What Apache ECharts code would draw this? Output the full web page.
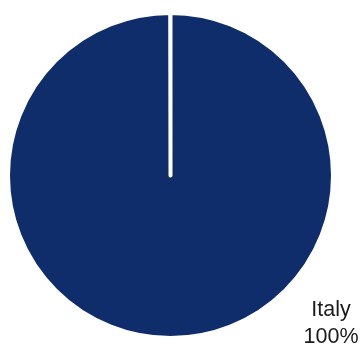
<!DOCTYPE html>
<html>
<head>
<meta charset="utf-8">
<script src="https://cdn.jsdelivr.net/npm/echarts@6/dist/echarts.min.js"></script>
<style>
  html, body { margin: 0; padding: 0; background: #fff; }
  #chart { width: 360px; height: 347px; }
</style>
</head>
<body>
<div id="chart"></div>
<script>
// --- data ---
const categories = ['Italy'];
const shares = [100];
const colors = ['#0F2D6B'];

const chart = echarts.init(document.getElementById('chart'), null, { renderer: 'canvas' });

chart.setOption({
  animation: false,
  series: [
    {
      type: 'pie',
      center: [170.5, 175.5],
      radius: 162.5,
      startAngle: 90,
      // leave a hair-thin gap so the slice keeps its radial edge (white line at 12 o'clock)
      endAngle: 90 - 359.9,
      clockwise: true,
      itemStyle: {
        borderColor: '#fff',
        borderWidth: 4,
        borderJoin: 'round'
      },
      label: {
        show: true,
        formatter: '{b}\n{d}%',
        fontFamily: '"Liberation Sans", Arial, sans-serif',
        fontSize: 21.5,
        lineHeight: 27,
        color: '#1a1a1a'
      },
      labelLine: { show: false },
      labelLayout: { x: 331, y: 324, align: 'center', verticalAlign: 'middle' },
      emphasis: { disabled: true },
      data: categories.map((name, i) => ({
        name: name,
        value: shares[i],
        itemStyle: { color: colors[i] }
      }))
    }
  ]
});
</script>
</body>
</html>
